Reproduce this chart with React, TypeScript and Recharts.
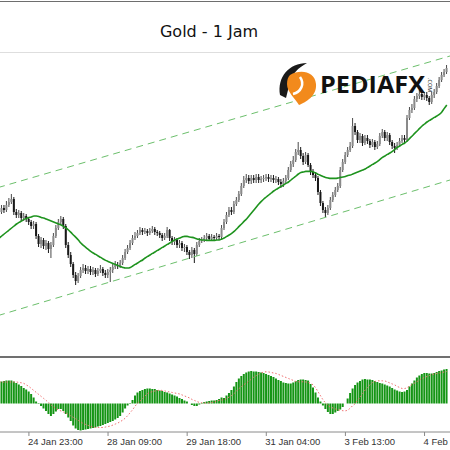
import React from 'react';
import { ComposedChart, Bar, Line, XAxis, YAxis, ReferenceLine } from 'recharts';

// Hourly XAUUSD candles (close / high / low)
const firstOpen = 2768;
const closes = [
  2770.5, 2772.5, 2771.5, 2774, 2775.5, 2777, 2770.5, 2769, 2770, 2767.5,
  2768.5, 2767, 2765.5, 2763.5, 2764.5, 2758.5, 2754.5, 2756.5, 2753.5, 2755,
  2752, 2754, 2758.5, 2762.5, 2765.5, 2767, 2763.5, 2754, 2749, 2744.5,
  2739, 2736, 2738.5, 2741.5, 2742.5, 2741, 2742, 2740.5, 2741.5, 2739.5,
  2741, 2742, 2740, 2739, 2740.5, 2741.5, 2743, 2744, 2743.5, 2745,
  2747.5, 2750.5, 2752.5, 2755, 2757.5, 2758.5, 2760, 2761.5, 2760.5, 2761,
  2760, 2761, 2762, 2760.5, 2760, 2759, 2757.5, 2758.5, 2761.5, 2757.5,
  2755.5, 2756.5, 2754, 2755, 2752.5, 2753, 2750.5, 2749, 2751.5, 2749.5,
  2754, 2756, 2756.5, 2757.5, 2758.5, 2757, 2758, 2757.5, 2758.5, 2758,
  2762.5, 2765.5, 2769, 2771.5, 2770.5, 2774.5, 2776.5, 2779.5, 2783.5, 2786.5,
  2787.5, 2786, 2787.5, 2786.5, 2788, 2786.5, 2787, 2787.5, 2788, 2787,
  2787.5, 2786.5, 2787, 2785.5, 2784.5, 2786, 2787.5, 2791.5, 2794.5, 2796.5,
  2800.5, 2801.5, 2798.5, 2795.5, 2799, 2794, 2790.5, 2789, 2787.5, 2780.5,
  2775, 2771.5, 2770, 2772.5, 2776.5, 2779, 2781.5, 2783.5, 2791.5, 2795.5,
  2799, 2801.5, 2803.5, 2813.5, 2810.5, 2806.5, 2808.5, 2805, 2807.5, 2806,
  2804, 2805.5, 2803, 2804.5, 2808.5, 2810.5, 2807.5, 2809, 2805.5, 2803.5,
  2802.5, 2804, 2806, 2807.5, 2806.5, 2817.5, 2821.5, 2822.5, 2827, 2828.5,
  2829.5, 2828, 2829, 2827.5, 2825.5, 2829, 2830.5, 2833.5, 2836.5, 2839,
  2840.5, 2842.5,
];
const highs = [
  2772, 2774, 2774, 2776, 2777.5, 2779.5, 2778, 2772, 2771.5, 2771,
  2770, 2769.5, 2768, 2766.5, 2766, 2765.5, 2759.5, 2758, 2757.5, 2756.5,
  2756, 2755.5, 2760, 2764, 2767, 2768.5, 2768, 2764.5, 2755.5, 2750.5,
  2745.5, 2740.5, 2740, 2743, 2744.5, 2744, 2743.5, 2743.5, 2743, 2742.5,
  2742.5, 2744, 2743, 2741.5, 2742, 2743, 2744.5, 2746, 2745.5, 2746.5,
  2749, 2752, 2754, 2756.5, 2759, 2760.5, 2761.5, 2763, 2762.5, 2762.5,
  2762, 2762.5, 2763.5, 2763, 2761.5, 2761, 2760, 2760, 2763, 2762,
  2758.5, 2758, 2757.5, 2756.5, 2756, 2754.5, 2754, 2751.5, 2753, 2752.5,
  2755.5, 2757.5, 2758, 2759, 2760, 2759.5, 2759.5, 2759, 2760, 2759.5,
  2764, 2767, 2770.5, 2773, 2773, 2776, 2778, 2781, 2785, 2788.5,
  2789.5, 2789, 2789, 2789, 2789.5, 2789.5, 2788.5, 2789, 2789.5, 2789.5,
  2789, 2789, 2788.5, 2788, 2787, 2787.5, 2789, 2793, 2796, 2798.5,
  2802, 2805.5, 2803, 2800, 2800.5, 2800, 2795, 2792, 2790.5, 2788.5,
  2781.5, 2776, 2773, 2774, 2778, 2780.5, 2783, 2785, 2793, 2797,
  2800.5, 2803, 2805.5, 2817.5, 2815, 2811.5, 2810, 2809.5, 2809, 2809,
  2807, 2807, 2806.5, 2806, 2810, 2812, 2811.5, 2810.5, 2810, 2806.5,
  2805, 2805.5, 2807.5, 2809, 2809, 2819, 2823, 2824.5, 2828.5, 2830,
  2831.5, 2831, 2830.5, 2830.5, 2828.5, 2830.5, 2832, 2835, 2838, 2840.5,
  2842, 2844,
];
const lows = [
  2766.5, 2769.5, 2770, 2770.5, 2773, 2774.5, 2769, 2767.5, 2767.5, 2766,
  2766, 2765.5, 2764, 2762, 2762, 2757, 2753, 2752.5, 2752, 2751.5,
  2750, 2747.5, 2753, 2757.5, 2761.5, 2764, 2762, 2752.5, 2747.5, 2743,
  2737.5, 2734, 2735, 2737.5, 2740, 2739.5, 2739.5, 2739, 2739, 2738,
  2738.5, 2740, 2738.5, 2737.5, 2737.5, 2735.5, 2740, 2742, 2742, 2742.5,
  2744, 2746.5, 2749.5, 2751.5, 2754, 2756.5, 2757.5, 2759, 2759, 2759.5,
  2758.5, 2759, 2760, 2759, 2758.5, 2757.5, 2756, 2756.5, 2757.5, 2756,
  2754, 2754, 2752.5, 2752.5, 2751, 2750.5, 2749, 2747, 2747.5, 2745,
  2748.5, 2753, 2755, 2755.5, 2756.5, 2756, 2756, 2756, 2756.5, 2756.5,
  2757, 2761.5, 2764.5, 2768, 2769, 2769.5, 2773.5, 2775.5, 2778.5, 2782.5,
  2785, 2784.5, 2784.5, 2785, 2785, 2785, 2785, 2785.5, 2786, 2785.5,
  2785.5, 2785, 2785, 2784, 2782.5, 2783, 2785, 2786.5, 2790.5, 2793,
  2795.5, 2799, 2797, 2794, 2794.5, 2793, 2789, 2787.5, 2786, 2779,
  2773.5, 2770, 2768, 2769, 2771.5, 2775.5, 2778, 2780.5, 2782.5, 2790.5,
  2794.5, 2798, 2800.5, 2802.5, 2809, 2805, 2805, 2803.5, 2804, 2804.5,
  2802.5, 2803, 2801.5, 2802, 2803.5, 2807.5, 2806, 2806, 2804, 2802,
  2800, 2801.5, 2803, 2805, 2805, 2805.5, 2816.5, 2820, 2821.5, 2825.5,
  2827, 2826.5, 2826.5, 2826, 2824, 2824.5, 2827.5, 2829.5, 2832.5, 2835.5,
  2838, 2839.5,
];
// green moving average
const maValues = [
  2757.5, 2758.5, 2759.5, 2760.5, 2761.5, 2762.5, 2763.5, 2764.5, 2765.3, 2766,
  2766.8, 2767.3, 2767.8, 2768, 2768.5, 2768.5, 2768.3, 2767.8, 2767.5, 2767,
  2766.5, 2766, 2765.5, 2765, 2764.5, 2764, 2763.3, 2762.5, 2761.5, 2760.3,
  2759, 2757.8, 2756.5, 2755, 2753.8, 2752.8, 2751.8, 2750.8, 2750, 2749.3,
  2748.5, 2747.8, 2747, 2746.3, 2745.8, 2745.3, 2744.8, 2744.3, 2743.8, 2743.3,
  2742.8, 2742.5, 2742.5, 2742.8, 2743.5, 2744.3, 2745, 2745.8, 2746.5, 2747.5,
  2748.3, 2749, 2749.8, 2750.5, 2751.3, 2752, 2752.8, 2753.5, 2754.3, 2755,
  2755.8, 2756.5, 2757, 2757.5, 2758, 2758.3, 2758.3, 2758, 2757.8, 2757.5,
  2757, 2756.8, 2756.5, 2756.5, 2756.3, 2756.3, 2756.3, 2756.3, 2756.5, 2756.5,
  2757, 2757.5, 2758.3, 2759, 2759.8, 2760.8, 2762, 2763.3, 2764.5, 2765.8,
  2767, 2768.5, 2770, 2771.5, 2773, 2774.5, 2775.8, 2777, 2778, 2779,
  2780, 2781, 2781.8, 2782.5, 2783.3, 2784, 2784.8, 2785.5, 2786.5, 2787.5,
  2788.5, 2789.5, 2790.3, 2790.5, 2790.8, 2790.8, 2790.8, 2790.5, 2790, 2789.3,
  2788.8, 2788.3, 2787.8, 2787.5, 2787.3, 2787.3, 2787.3, 2787.5, 2787.8, 2788,
  2788.3, 2788.8, 2789, 2789.5, 2790, 2790.5, 2791, 2791.5, 2792, 2792.8,
  2793.5, 2794.3, 2795, 2795.8, 2796.8, 2797.8, 2798.5, 2799.3, 2800, 2800.8,
  2801.8, 2802.8, 2803.5, 2804.3, 2805, 2806, 2807.3, 2808.5, 2809.8, 2811,
  2812.3, 2813.5, 2814.5, 2815.5, 2816.3, 2817, 2817.8, 2818.5, 2819.3, 2820.5,
  2822.3, 2824,
];
// MACD histogram and signal (lower panel)
const macdHist = [
  21.5, 22, 22.5, 23, 23, 23, 22, 20.5, 19, 17.5,
  15.5, 14, 12, 9.5, 6, 2, -0.5, -2.5, -5, -7.5,
  -10.5, -12.5, -10.5, -8, -5.5, -5.5, -7.5, -10.5, -14, -17.5,
  -22, -25, -26.5, -27, -26.5, -26, -25.5, -25, -24.5, -24,
  -23, -22.5, -21.5, -20.5, -19.5, -18.5, -17.5, -16, -14.5, -12.5,
  -9, -5, -2, 0.5, 3.5, 8, 11, 12.5, 13.5, 14.5,
  15, 15, 14.5, 14.5, 13.5, 13, 12.5, 11.5, 11, 10,
  9, 8, 7, 5.5, 4.5, 3, 2, 0, -1.5, -2.5,
  -2.5, -1, 0.5, 1.5, 2, 2.5, 3, 3, 3.5, 4.5,
  6, 5.5, 8, 10.5, 13.5, 17, 21.5, 25, 27.5, 29.5,
  31, 32, 32.5, 32, 32, 31.5, 31, 30.5, 29.5, 28.5,
  27.5, 26.5, 25, 23.5, 22.5, 21, 20.5, 20, 20, 21,
  22.5, 23.5, 24, 24, 23.5, 23, 19.5, 16, 11, 6,
  2, -2, -5.5, -8.5, -10.5, -10.5, -9, -7.5, -6, -3.5,
  0, 5, 10.5, 15, 18.5, 21, 22.5, 24, 24.5, 24,
  24, 23.5, 22.5, 21.5, 20.5, 20, 19, 18, 17, 15.5,
  14, 13, 12, 11.5, 12, 13.5, 17, 20, 23, 26,
  28, 29.5, 30.5, 30.5, 30, 30, 30.5, 31.5, 32.5, 33,
  34, 34.5,
];
const macdSignal = [
  21.5, 21.5, 21.5, 21.5, 21.5, 21.5, 21.5, 21.5, 21, 20.7,
  20, 18.5, 17, 15, 13, 11, 9, 7, 5, 3,
  1, -1.5, -3.5, -5, -6.5, -7.5, -8.5, -9.5, -11, -12.5,
  -14, -15.5, -17, -18.5, -20, -21, -22, -23, -23.5, -24,
  -24, -24, -24, -23.5, -23, -22.5, -21.5, -20.5, -19.5, -18,
  -16.5, -14.5, -12, -9, -6, -2.5, 0.5, 2.5, 5, 7.5,
  10, 11, 12, 12.5, 13, 13.3, 13, 12.5, 12, 11.5,
  11, 10.5, 10, 9.5, 8.5, 7.5, 6.5, 5.5, 4, 3,
  2, 1, 0.7, 0.5, 0.5, 0.7, 1, 1.5, 2.5, 3,
  3.5, 4, 5, 6.5, 8, 10, 12.5, 15, 17, 19,
  20.5, 22.5, 24.5, 26.5, 28, 29.5, 30.5, 31.5, 31.7, 31.5,
  31, 30.5, 30, 29, 28, 27, 26, 25, 24, 23,
  22, 21.7, 21.7, 21.7, 21.5, 21, 20, 18.5, 15.5, 11.5,
  7.5, 3.5, 0.5, -2, -3.5, -4.5, -5.5, -6.3, -6.8, -7.2,
  -7.3, -6.5, -4.5, -2, 0, 3.5, 6.5, 10, 13.5, 16,
  19, 21, 22, 22.7, 22.7, 22.7, 22.5, 21.5, 20.5, 19.5,
  18.5, 17, 16, 15, 15, 16, 17.5, 19, 20.5, 22,
  23.5, 25, 26, 27, 28, 29, 29.5, 30, 30.5, 31,
  31.5, 32,
];
// regression channel end values (at the left and right edge)
const upperChannel = [2782.7, 2848.5];
const lowerChannel = [2718.7, 2786.5];
// time axis
const tickIndex = [12, 44, 76, 108, 140, 172];
const tickLabels = ['24 Jan 23:00', '28 Jan 09:00', '29 Jan 18:00', '31 Jan 04:00', '3 Feb 13:00', '4 Feb 22:00'];
const titleText = 'Gold - 1 Jam';

const xDomain: [number, number] = [-0.5, 182.3];

const rows = closes.map((c, i) => ({
  i,
  open: i === 0 ? firstOpen : closes[i - 1],
  close: c,
  high: highs[i],
  low: lows[i],
  ma: maValues[i],
  hist: macdHist[i],
  signal: macdSignal[i],
}));

function Candle(props: any) {
  const { x, y, width, height, payload } = props;
  if (!payload || x == null || y == null) return null;
  const top = Math.min(y, y + height);
  const h = Math.abs(height);
  const span = payload.high - payload.low;
  const k = span > 0 ? h / span : 0;
  const py = (v: number) => top + (payload.high - v) * k;
  const cx = x + width / 2;
  const bull = payload.close >= payload.open;
  const bTop = py(Math.max(payload.open, payload.close));
  const bBot = py(Math.min(payload.open, payload.close));
  return (
    <g>
      <line x1={cx} x2={cx} y1={top} y2={top + h} stroke={bull ? '#4a4a4a' : '#181818'} strokeWidth={1} />
      <rect x={cx - 1} y={bTop} width={2} height={Math.max(1, bBot - bTop)} fill={bull ? '#8a8a8a' : '#181818'} />
    </g>
  );
}

function DateTick(props: any) {
  const { x, y, payload } = props;
  const idx = tickIndex.indexOf(payload.value);
  return (
    <text x={x - 1} y={y} dy="0.71em" textAnchor="start" fontSize={9.5} fontFamily="'Liberation Sans', Arial, sans-serif" fill="#333">
      {idx >= 0 ? tickLabels[idx] : ''}
    </text>
  );
}

export default function App() {
  return (
    <div style={{ position: 'absolute', left: 0, top: 0, width: 450, height: 450, background: '#fff', overflow: 'hidden' }}>
      <div style={{ position: 'absolute', left: -2, top: 53 }}>
        <ComposedChart width={452} height={303} data={rows} margin={{ top: 0, right: 0, bottom: 0, left: 0 }}>
          <XAxis hide dataKey="i" type="number" domain={xDomain} allowDataOverflow />
          <YAxis hide domain={[2698.5, 2850]} allowDataOverflow />
          <ReferenceLine segment={[{ x: xDomain[0], y: upperChannel[0] }, { x: xDomain[1], y: upperChannel[1] }]} stroke="#6cbf6c" strokeDasharray="7 5" strokeWidth={1} />
          <ReferenceLine segment={[{ x: xDomain[0], y: lowerChannel[0] }, { x: xDomain[1], y: lowerChannel[1] }]} stroke="#6cbf6c" strokeDasharray="7 5" strokeWidth={1} />
          <Bar dataKey={(d: any) => [d.low, d.high]} barSize={2} shape={(p: any) => <Candle {...p} />} isAnimationActive={false} />
          <Line dataKey="ma" type="monotone" stroke="#1e931e" strokeWidth={1.6} dot={false} isAnimationActive={false} />
        </ComposedChart>
      </div>
      <div style={{ position: 'absolute', left: -2, top: 359 }}>
        <ComposedChart width={452} height={91} data={rows} margin={{ top: 0, right: 0, bottom: 0, left: 0 }}>
          <XAxis dataKey="i" type="number" domain={xDomain} allowDataOverflow ticks={tickIndex} interval={0} tickSize={4} height={18}
            axisLine={{ stroke: '#8a8a8a' }} tickLine={{ stroke: '#8a8a8a' }} tick={<DateTick />} />
          <YAxis hide domain={[-28.5, 44.5]} allowDataOverflow />
          <Bar dataKey="hist" fill="#159515" barSize={2} isAnimationActive={false} />
          <Line dataKey="signal" type="monotone" stroke="#f07070" strokeWidth={1} strokeDasharray="1.5 2" dot={false} isAnimationActive={false} />
        </ComposedChart>
      </div>
      <svg width={450} height={450} style={{ position: 'absolute', left: 0, top: 0, pointerEvents: 'none' }}>
        <rect x={0} y={1} width={450} height={1} fill="#6e6e6e" />
        <text x={209} y={37} textAnchor="middle" fontSize={16} fontFamily="'Comic Sans MS', 'DejaVu Sans', sans-serif" fill="#111">{titleText}</text>
        <rect x={0} y={52} width={450} height={1} fill="#dedede" />
        <rect x={0} y={356} width={450} height={2} fill="#707070" />
        <g>
          <path d="M280 95 C277 77 289 63 307 63 C298 68 292 74 290 82 L286 98 Z" fill="#1a1a1a" />
          <path d="M290 75 C300 69 315 71 316 84 C317 96 306 102 299 105 C295 98 287 92 287 84 C287 80 288 77 290 75 Z" fill="#f28a1c" />
          <path d="M293 94 C301 92 305 84 300 77" stroke="#fff" strokeWidth={2.5} fill="none" />
          <text x={320} y={93} fontSize={23} fontWeight={700} fontFamily="'Open Sans', 'Noto Sans', sans-serif" fill="#111" textLength={105} lengthAdjust="spacingAndGlyphs">PEDIAFX</text>
          <text x={428} y={78} fontSize={5.5} fontFamily="'Open Sans', sans-serif" fill="#111" transform="rotate(90 428 78)">.COM</text>
        </g>
      </svg>
    </div>
  );
}
